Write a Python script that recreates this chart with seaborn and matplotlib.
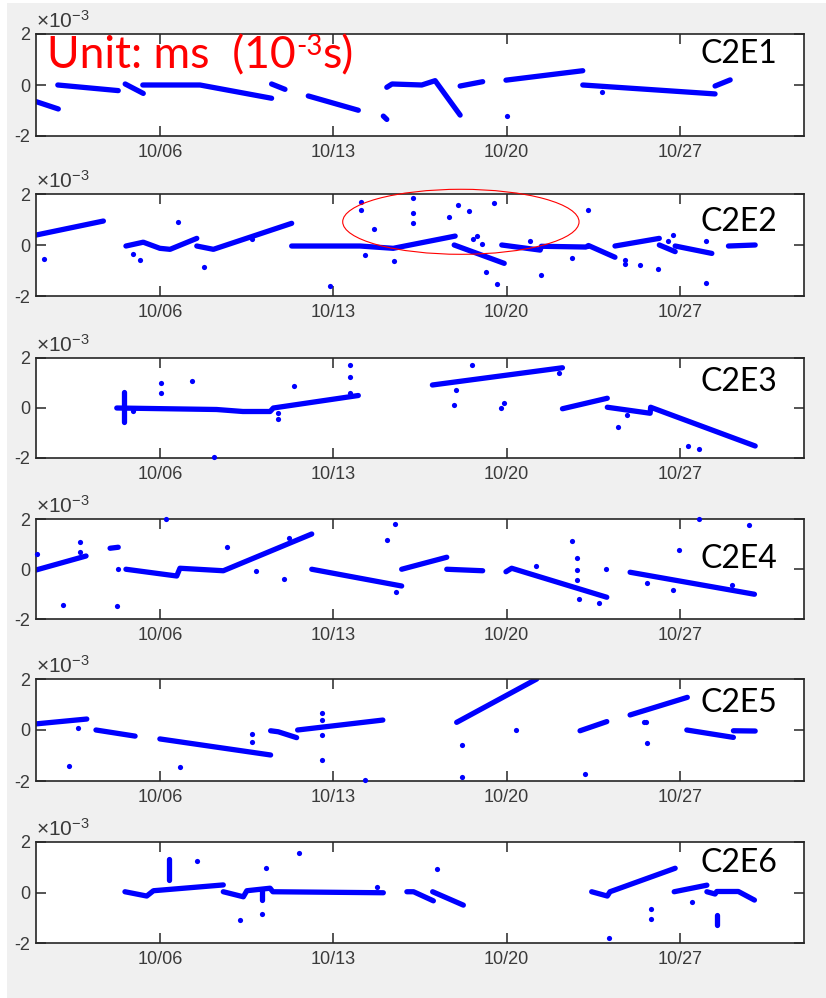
import matplotlib
matplotlib.use("Agg")
import matplotlib.pyplot as plt
from matplotlib.patches import Ellipse, Rectangle
import pandas as pd
import seaborn as sns

# ---- data: days since Oct 1, clock offset in units of 1e-3 s ----
panel_names = ["C2E1", "C2E2", "C2E3", "C2E4", "C2E5", "C2E6"]
tick_days = [5, 12, 19, 26]
tick_labels = ["10/06", "10/13", "10/20", "10/27"]

C2E1_segments = [
    [(0.0, -0.65), (0.9, -0.94)],
    [(0.88, 0.0), (3.32, -0.22)],
    [(3.6, 0.04), (4.33, -0.33)],
    [(4.31, 0.0), (6.62, 0.0), (9.51, -0.52)],
    [(9.51, 0.04), (10.05, -0.17)],
    [(10.99, -0.43), (13.01, -0.99)],
    [(14.02, -1.22), (14.16, -1.35)],
    [(14.16, -0.09), (14.37, 0.04), (15.57, 0.0), (16.11, 0.17), (17.12, -1.18)],
    [(17.12, -0.04), (18.03, 0.13)],
    [(18.97, 0.19), (22.07, 0.56)],
    [(22.07, 0.0), (27.41, -0.35)],
    [(27.41, -0.04), (28.02, 0.2)],
]
C2E1_outliers = [(19.03, -1.2), (22.86, -0.26)]

C2E2_segments = [
    [(0.0, 0.39), (2.72, 0.94)],
    [(3.63, -0.04), (4.33, 0.11), (5.0, -0.13), (5.41, -0.17), (6.49, 0.26)],
    [(6.49, -0.04), (7.16, -0.17), (10.32, 0.85)],
    [(10.32, -0.04), (13.08, -0.04), (14.42, -0.13), (16.92, 0.35)],
    [(16.88, 0.0), (18.9, -0.72)],
    [(18.8, 0.0), (20.35, -0.2), (20.4, -0.05), (22.2, -0.08), (22.3, -0.02), (23.37, -0.48)],
    [(23.37, -0.04), (25.16, 0.26)],
    [(25.16, 0.0), (25.8, -0.26)],
    [(25.8, -0.04), (27.28, -0.33)],
    [(27.95, -0.04), (29.03, 0.0)],
]
C2E2_outliers = [
    (0.32, -0.56), (3.9, -0.36), (4.2, -0.59), (5.74, 0.91), (6.78, -0.85),
    (8.7, 0.22), (11.87, -1.6), (13.1, 1.7), (13.1, 1.37), (13.28, -0.39),
    (13.64, 0.61), (14.45, -0.62), (15.23, 1.83), (15.23, 1.24), (15.23, 0.85),
    (16.68, 1.09), (17.05, 1.57), (17.49, 1.35), (18.5, 1.63), (17.63, 0.22),
    (17.8, 0.35), (18.0, 0.04), (18.17, -1.05), (18.6, -1.53), (19.94, 0.16),
    (20.37, -1.18), (21.63, -0.5), (22.3, 1.37), (23.78, -0.6), (23.78, -0.75),
    (24.38, -0.78), (25.12, -0.94), (25.53, 0.16), (25.73, 0.39), (27.05, 0.16),
    (27.05, -1.48),
]

C2E3_segments = [
    [(3.55, 0.65), (3.55, -0.55)],
    [(3.26, 0.0), (7.29, -0.06), (8.35, -0.14), (9.45, -0.14), (9.58, 0.0), (13.01, 0.5)],
    [(16.0, 0.92), (21.25, 1.61)],
    [(21.25, -0.03), (23.06, 0.39)],
    [(23.06, 0.03), (24.79, -0.21), (24.81, 0.03), (29.03, -1.52)],
]
C2E3_outliers = [
    (3.93, -0.13), (5.05, 0.99), (5.05, 0.59), (6.31, 1.08), (7.19, -1.95),
    (9.76, -0.45), (9.76, -0.2), (10.43, 0.87), (12.68, 1.72), (12.68, 1.23),
    (12.68, 0.61), (16.96, 0.72), (16.89, 0.12), (17.61, 1.72), (18.76, 0.01),
    (18.9, 0.21), (21.11, 1.39), (23.48, -0.77), (23.85, -0.28), (26.3, -1.52),
    (26.77, -1.64),
]

C2E4_segments = [
    [(0.0, -0.04), (2.02, 0.52)],
    [(2.99, 0.83), (3.32, 0.87)],
    [(3.63, -0.01), (5.68, -0.28), (5.81, 0.03), (7.56, -0.07), (11.13, 1.4)],
    [(11.13, -0.01), (14.76, -0.68)],
    [(14.76, -0.01), (16.58, 0.47)],
    [(16.58, -0.01), (18.03, -0.07)],
    [(18.97, -0.11), (19.2, 0.03), (23.04, -1.13)],
    [(23.98, -0.13), (29.0, -1.01)],
]
C2E4_outliers = [
    (0.03, 0.59), (1.08, -1.44), (1.78, 1.07), (1.78, 0.7), (3.28, -1.48),
    (3.32, -0.01), (5.25, 1.99), (7.7, 0.89), (8.88, -0.08), (10.01, -0.39),
    (10.23, 1.23), (14.49, 1.8), (14.16, 1.16), (14.53, -0.93), (20.17, 0.12),
    (21.65, 1.12), (21.83, 0.45), (21.83, -0.05), (21.83, -0.45), (21.9, -1.2),
    (22.74, -1.35), (23.0, 0.0), (24.66, -0.57), (25.7, -0.84), (25.97, 0.76),
    (26.78, 2.0), (28.8, 1.76), (28.1, -0.64),
]

C2E5_segments = [
    [(0.0, 0.24), (2.05, 0.43)],
    [(2.42, 0.0), (4.0, -0.24)],
    [(5.0, -0.35), (9.47, -0.98)],
    [(9.47, -0.03), (9.78, -0.07), (10.52, -0.3)],
    [(10.56, 0.0), (14.0, 0.39)],
    [(16.98, 0.3), (20.21, 2.0)],
    [(21.96, -0.03), (23.04, 0.33)],
    [(23.98, 0.59), (26.29, 1.28)],
    [(26.27, 0.0), (28.15, -0.29)],
    [(28.15, -0.03), (29.03, -0.04)],
]
C2E5_outliers = [
    (1.71, 0.09), (1.34, -1.41), (5.81, -1.44), (8.73, -0.16), (8.73, -0.46),
    (11.56, 0.68), (11.56, 0.4), (11.56, -0.2), (11.56, -1.18), (13.28, -1.96),
    (17.19, -0.59), (17.19, -1.83), (19.38, 0.0), (22.16, -1.74), (24.53, 0.3),
    (24.64, 0.3), (24.68, -0.5),
]

C2E6_segments = [
    [(3.59, 0.03), (4.47, -0.14), (4.74, 0.07), (7.56, 0.3)],
    [(5.37, 1.31), (5.37, 0.5)],
    [(7.56, 0.03), (8.37, -0.17), (8.51, 0.07), (9.45, 0.17), (9.56, 0.03), (14.02, -0.01)],
    [(9.11, 0.1), (9.11, -0.3)],
    [(14.97, 0.03), (15.24, 0.03), (16.04, -0.33)],
    [(16.01, 0.03), (17.25, -0.5)],
    [(22.43, 0.03), (23.06, -0.14), (23.17, 0.03), (25.8, 0.96)],
    [(25.76, 0.03), (27.08, 0.29)],
    [(27.08, 0.03), (27.41, -0.06), (27.48, 0.04), (28.35, 0.04), (29.0, -0.3)],
    [(27.5, -0.89), (27.5, -1.29)],
]
C2E6_outliers = [
    (6.51, 1.26), (8.24, -1.09), (9.11, -0.87), (9.29, 0.98), (10.62, 1.55),
    (13.78, 0.2), (16.17, 0.92), (23.13, -1.79), (24.81, -0.67), (24.81, -1.05),
    (26.47, -0.36),
]

all_segments = [C2E1_segments, C2E2_segments, C2E3_segments,
                C2E4_segments, C2E5_segments, C2E6_segments]
all_outliers = [C2E1_outliers, C2E2_outliers, C2E3_outliers,
                C2E4_outliers, C2E5_outliers, C2E6_outliers]

# ---- tidy tables ----
line_rows = []
dot_rows = []
for name, segs, outs in zip(panel_names, all_segments, all_outliers):
    for k, seg in enumerate(segs):
        for d, v in seg:
            line_rows.append({"panel": name, "seg": k, "day": d, "offset": v})
    for d, v in outs:
        dot_rows.append({"panel": name, "day": d, "offset": v})
lines = pd.DataFrame(line_rows)
dots = pd.DataFrame(dot_rows)

# ---- styling ----
sns.set_theme(style="white")
plt.rcParams["font.family"] = ["Liberation Sans Narrow", "Liberation Sans", "DejaVu Sans"]
plt.rcParams["mathtext.default"] = "regular"

W, H = 826, 998
fig = plt.figure(figsize=(W / 100, H / 100), dpi=100)
fig.patch.set_facecolor("white")
fig.patches.append(Rectangle((7 / W, 0), 1 - 7 / W, 1 - 3 / H,
                             transform=fig.transFigure, facecolor="#f0f0f0",
                             edgecolor="none", zorder=-10))

ax_left, ax_right = 36, 804
panel_px = [(34, 136), (194, 296), (358, 458), (519, 619), (679, 781), (842, 943)]
label_center_px = [54, 222, 382, 559, 703, 863]
blue = "#0000ff"
axis_col = "#262626"
text_col = "#3a3a3a"
label_family = ["Lato", "DejaVu Sans"]

axes = []
for i, name in enumerate(panel_names):
    top, bot = panel_px[i]
    ax = fig.add_axes([ax_left / W, 1 - bot / H, (ax_right - ax_left) / W, (bot - top) / H])
    ax.set_facecolor("white")
    axes.append(ax)

    sub = lines[lines.panel == name]
    sns.lineplot(data=sub, x="day", y="offset", units="seg", estimator=None,
                 sort=False, color=blue, linewidth=3.8, legend=False, ax=ax,
                 solid_capstyle="round")
    dsub = dots[dots.panel == name]
    sns.scatterplot(data=dsub, x="day", y="offset", color=blue, s=14,
                    linewidth=0, legend=False, ax=ax, clip_on=False, zorder=3)

    ax.set_xlim(0, 31)
    ax.set_ylim(-2, 2)
    ax.set_xticks(tick_days)
    ax.set_xticklabels(tick_labels)
    ax.set_yticks([-2, 0, 2])
    ax.set_yticklabels(["-2", "0", "2"])
    ax.set_xlabel("")
    ax.set_ylabel("")
    ax.tick_params(axis="both", direction="in", length=7, width=1.1,
                   color=axis_col, labelcolor=text_col, labelsize=13,
                   top=True, right=True, bottom=True, left=True)
    ax.tick_params(axis="x", pad=6)
    ax.tick_params(axis="y", pad=4)
    for sp in ax.spines.values():
        sp.set_color(axis_col)
        sp.set_linewidth(1.2)
        sp.set_visible(True)

    ax.text(0.0, 1.02, r"$\times10^{-3}$", transform=ax.transAxes,
            ha="left", va="bottom", fontsize=15, color=text_col)

    yc = label_center_px[i]
    ax.text(777 / W, 1 - yc / H, name, transform=fig.transFigure,
            ha="right", va="center", fontsize=23, color="black",
            family=label_family)

# unit annotation on the first panel, with a raised exponent
unit_main = fig.text(47 / W, 1 - 68 / H, "Unit: ms  (10", ha="left",
                     va="baseline", fontsize=32, color="#ff0000",
                     family=label_family)
exp_ann = axes[0].annotate("-3", xy=(1.0, 0.70), xycoords=unit_main,
                           ha="left", va="center", fontsize=20,
                           color="#ff0000", family=label_family,
                           annotation_clip=False)
axes[0].annotate("s)", xy=(1.0, 0.0), xycoords=(exp_ann, unit_main),
                 ha="left", va="bottom", fontsize=32, color="#ff0000",
                 family=label_family, annotation_clip=False)

# highlighted region on the second panel
axes[1].add_patch(Ellipse((17.15, 0.91), 9.54, 2.55, fill=False,
                          edgecolor="#ff0000", linewidth=0.8, clip_on=False,
                          zorder=4))

fig.savefig("out.png", dpi=100, facecolor=fig.get_facecolor())
